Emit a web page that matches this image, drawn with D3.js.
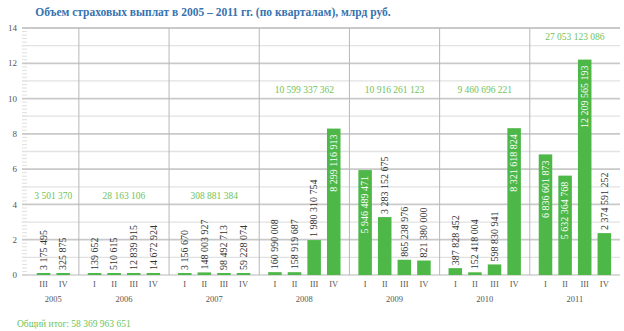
<!DOCTYPE html>
<html><head><meta charset="utf-8">
<script src="https://cdn.jsdelivr.net/npm/d3@7"></script>
<style>body{margin:0;background:#fff}svg{display:block}</style>
</head><body><svg id="c" width="624" height="331"></svg>
<script>
const title = "Объем страховых выплат в 2005 – 2011 гг. (по кварталам), млрд руб.";
const years = ["2005","2006","2007","2008","2009","2010","2011"];
const quarters = [["III","IV"],["I","II","III","IV"],["I","II","III","IV"],["I","II","III","IV"],["I","II","III","IV"],["I","II","III","IV"],["I","II","III","IV"]];
const values = [
  [3175495, 325875],
  [139652, 510615, 12839915, 14672924],
  [3156670, 148003927, 98492713, 59228074],
  [160990008, 158919687, 1980310754, 8299116913],
  [5946489471, 3283152675, 865238976, 821380000],
  [387828452, 152418004, 598830941, 8321618824],
  [6836601873, 5632364768, 12209565193, 2374591252]
];
const yearTotals = ["3 501 370","28 163 106","308 881 384","10 599 337 362","10 916 261 123","9 460 696 221","27 053 123 086"];
const totalLabelY = [4.5, 4.5, 4.5, 10.5, 10.5, 10.5, 13.5];
const grandTotal = "Общий итог: 58 369 963 651";
const yTicks = [0,2,4,6,8,10,12,14];

(function(){
const svg = d3.select("#c");
const font = "'Liberation Serif', 'DejaVu Serif', serif";
const pL = 22, pR = 620, pT = 28, pB = 275;
const y = d3.scaleLinear().domain([0,14]).range([pB, pT]);

const pad = 0.3, firstExtra = 0.3;
let u = firstExtra;
const groups = years.map((yr, i) => {
  const start = i === 0 ? 0 : u;
  const g = {year: yr, start: start, items: []};
  u += pad;
  quarters[i].forEach((q, j) => {
    g.items.push({q: q, v: values[i][j], c: u + 0.5});
    u += 1;
  });
  u += pad;
  g.end = u;
  return g;
});
const x = d3.scaleLinear().domain([0, u]).range([pL, pR]);
const slot = x(1) - x(0);
const bw = slot * 0.69;
const fmt = v => d3.format(",")(v).replace(/,/g, " ");

d3.range(0, 14.01, 0.2).forEach(t => {
  svg.append("line").attr("x1", pL).attr("x2", pL + 5)
    .attr("y1", y(t)).attr("y2", y(t)).attr("stroke", "#d8d8d8").attr("stroke-width", 0.8);
});
d3.range(1, 15).forEach(t => {
  const major = t % 2 === 0;
  svg.append("line").attr("x1", pL).attr("x2", pR)
    .attr("y1", y(t)).attr("y2", y(t))
    .attr("stroke", major ? "#c9c9c9" : "#e2e2e2").attr("stroke-width", major ? 1.8 : 1.3);
});
svg.append("line").attr("x1", pL).attr("x2", pR).attr("y1", y(0)).attr("y2", y(0))
  .attr("stroke", "#cfcfcf").attr("stroke-width", 1.5);
groups.slice(1).forEach(g => {
  svg.append("line").attr("x1", x(g.start)).attr("x2", x(g.start))
    .attr("y1", pT).attr("y2", pB).attr("stroke", "#b8b8b8").attr("stroke-width", 1);
});
svg.append("g").selectAll("text").data(yTicks).join("text")
  .attr("x", 17).attr("y", d => y(d)).attr("dy", "0.35em").attr("text-anchor", "end")
  .attr("font-family", font).attr("font-size", 9).attr("fill", "#555").text(d => d);

const green = "#4db848";
groups.forEach((g, i) => {
  g.items.forEach(it => {
    const vb = it.v / 1e9;
    const cx = x(it.c);
    const h = Math.max(y(0) - y(vb), 2);
    svg.append("rect").attr("x", cx - bw/2).attr("y", y(0) - h).attr("width", bw).attr("height", h).attr("fill", green);
    const inside = vb > 5;
    const ty = inside ? y(vb) + 6 : y(0) - h - 3;
    svg.append("text").attr("transform", `translate(${cx + 3.3},${ty}) rotate(-90)`)
      .attr("text-anchor", inside ? "end" : "start")
      .attr("font-family", font).attr("font-size", 10).attr("fill", inside ? "#fff" : "#333")
      .text(fmt(it.v));
    svg.append("text").attr("x", cx).attr("y", 287).attr("text-anchor", "middle")
      .attr("font-family", font).attr("font-size", 8.5).attr("fill", "#555").text(it.q);
  });
  const gc = (x(g.items[0].c) + x(g.items[g.items.length-1].c)) / 2;
  svg.append("text").attr("x", gc).attr("y", 302).attr("text-anchor", "middle")
    .attr("font-family", font).attr("font-size", 8.5).attr("fill", "#555").text(g.year);
  svg.append("text").attr("x", gc).attr("y", y(totalLabelY[i])).attr("dy", "0.35em").attr("text-anchor", "middle")
    .attr("font-family", font).attr("font-size", 9.5).attr("fill", "#6fc35a").text(yearTotals[i]);
});

svg.append("text").attr("x", 213).attr("y", 16).attr("text-anchor", "middle")
  .attr("font-family", font).attr("font-size", 11.5).attr("font-weight", "bold").attr("fill", "#3673b0").text(title);
svg.append("text").attr("x", 17).attr("y", 327)
  .attr("font-family", font).attr("font-size", 9.5).attr("fill", "#6fc35a").text(grandTotal);
})();
</script></body></html>
